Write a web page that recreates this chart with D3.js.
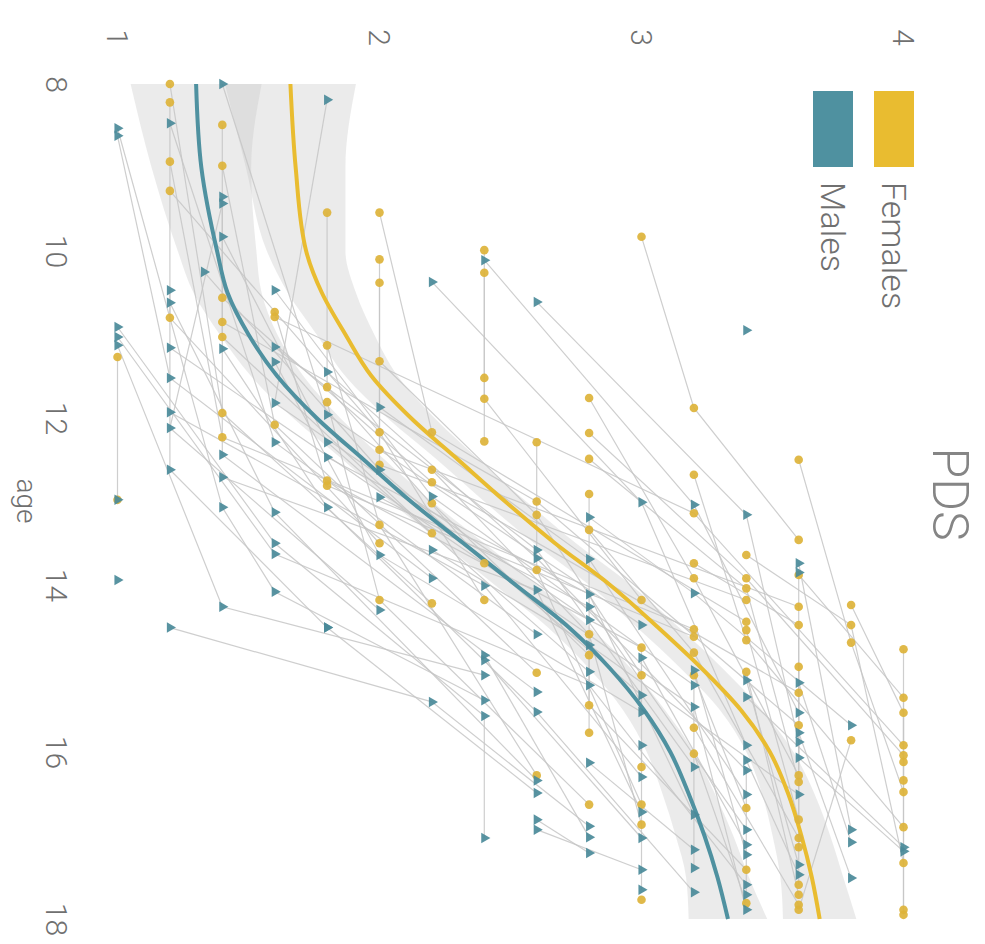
<!DOCTYPE html>
<html><head><meta charset="utf-8">
<script src="https://cdn.jsdelivr.net/npm/d3@7"></script>
<style>body{margin:0;background:#fff} svg{display:block}</style>
</head><body>
<svg id="chart" width="985" height="944"></svg>
<script>
const ageTicks = [8, 10, 12, 14, 16, 18];
const pdsTicks = [1, 2, 3, 4];
const legendLabels = ["Females", "Males"];

const fitAges   = [8, 9, 10, 10.5, 11, 11.5, 12, 12.5, 13, 13.5, 14, 14.5, 15, 15.5, 16, 16.5, 17, 17.5, 18];
const femaleFit = [1.66, 1.68, 1.72, 1.78, 1.87, 1.97, 2.12, 2.30, 2.48, 2.67, 2.88, 3.06, 3.23, 3.38, 3.49, 3.56, 3.61, 3.65, 3.68];
const femaleLo  = [1.41, 1.49, 1.57, 1.65, 1.76, 1.87, 2.03, 2.22, 2.40, 2.59, 2.80, 2.98, 3.15, 3.30, 3.40, 3.46, 3.50, 3.53, 3.54];
const femaleHi  = [1.91, 1.87, 1.87, 1.91, 1.98, 2.07, 2.21, 2.38, 2.56, 2.75, 2.96, 3.14, 3.31, 3.46, 3.58, 3.66, 3.72, 3.77, 3.82];
const maleFit   = [1.30, 1.32, 1.38, 1.42, 1.50, 1.61, 1.76, 1.94, 2.12, 2.32, 2.52, 2.72, 2.88, 3.01, 3.11, 3.18, 3.24, 3.29, 3.33];
const maleLo    = [1.05, 1.13, 1.23, 1.29, 1.39, 1.51, 1.67, 1.86, 2.04, 2.24, 2.44, 2.64, 2.80, 2.93, 3.02, 3.08, 3.13, 3.17, 3.18];
const maleHi    = [1.55, 1.51, 1.53, 1.55, 1.61, 1.71, 1.85, 2.02, 2.20, 2.40, 2.60, 2.80, 2.96, 3.09, 3.20, 3.28, 3.35, 3.41, 3.48];

// each subject: list of [age, PDS]
const femaleSubjects = [
 [[8.0,1.2],[11.94,1.4],[14.22,2.2]],
 [[8.22,1.2],[10.8,1.2],[13.5,2.0]],
 [[8.49,1.4],[11.03,1.4],[13.38,2.2]],
 [[8.93,1.2],[12.23,1.4],[14.53,3.2]],
 [[8.98,1.4],[12.08,1.6],[15.05,2.6]],
 [[9.28,1.2],[12.17,2.0],[14.18,2.4]],
 [[9.54,1.8],[11.63,1.8],[13.74,2.4]],
 [[9.54,2.0],[12.17,2.2],[14.44,3.4]],
 [[9.83,3.0],[11.88,3.2],[13.46,3.6]],
 [[9.99,2.4],[11.52,2.4],[12.28,2.4]],
 [[10.10,2.0],[12.38,2.0],[14.26,3.6]],
 [[10.26,2.4],[11.77,2.4],[14.18,3.0]],
 [[10.38,2.0],[12.56,2.0],[14.18,3.4]],
 [[10.56,1.4],[12.77,2.2],[15.29,3.6]],
 [[10.73,1.6],[12.81,1.8],[14.62,3.2]],
 [[10.79,1.6],[13.14,3.2],[15.92,4.0]],
 [[10.85,1.4],[13.0,2.6],[15.68,3.6]],
 [[11.13,1.8],[13.28,2.0],[16.28,2.6]],
 [[11.27,1.0],[12.98,1.0]],
 [[11.32,2.0],[13.16,2.6],[15.08,3.0]],
 [[11.76,2.8],[13.92,3.2],[16.28,3.6]],
 [[12.18,2.8],[13.92,3.4],[16.04,4.0]],
 [[12.49,2.8],[14.04,3.4],[16.36,3.6]],
 [[12.91,2.8],[15.44,2.8],[17.41,3.4]],
 [[11.81,1.8],[14.18,2.0],[16.63,2.8]],
 [[12.29,2.6],[13.82,2.6],[16.63,3.0]],
 [[12.5,3.6],[14.69,3.8],[16.48,4.0]],
 [[12.62,2.2],[14.59,2.8],[16.87,3.0]],
 [[12.68,3.2],[14.66,3.4],[16.90,4.0]],
 [[12.75,1.8],[14.75,3.0],[16.18,3.0]],
 [[13.02,2.2],[14.84,2.8],[15.77,2.8]],
 [[13.34,2.8],[14.81,3.2],[17.03,3.6]],
 [[13.64,3.4],[14.48,3.8],[17.33,4.0]],
 [[13.74,3.2],[14.48,3.6],[17.14,3.6]],
 [[13.88,3.6],[15.35,4.0],[17.95,4.0]],
 [[14.24,3.8],[15.53,4.0],[17.89,4.0]],
 [[14.54,3.4],[16.81,3.6]],
 [[14.98,3.6],[17.59,3.6]],
 [[15.04,3.4],[17.71,3.6]],
 [[15.08,3.2],[16.67,3.4]],
 [[15.71,3.2],[17.83,3.6]],
 [[15.86,3.8],[17.89,3.6]],
 [[16.02,3.2],[17.81,3.4]],
 [[14.77,4.0],[16.34,4.0]],
 [[17.77,3.0]],
 [[16.12,4.0]]
];

const maleSubjects = [
 [[8.0,1.4],[11.96,1.8],[14.48,3.0]],
 [[8.19,1.8],[11.82,1.6],[14.42,2.8]],
 [[8.47,1.2],[12.29,1.6],[14.59,2.6]],
 [[8.53,1.0],[13.07,1.4],[14.08,1.6],[15.38,2.4]],
 [[8.62,1.0],[11.52,1.2],[13.92,2.2]],
 [[9.35,1.4],[12.44,1.4],[15.28,2.6]],
 [[9.43,1.4],[12.12,1.2],[14.30,2.0]],
 [[9.83,1.4],[12.29,1.8],[15.04,2.8]],
 [[10.11,2.4],[13.04,3.2],[15.53,3.6]],
 [[10.25,1.33],[12.62,2.0],[15.32,3.0]],
 [[10.37,2.2],[13.01,3.0],[15.92,3.4]],
 [[10.47,1.2],[12.62,1.2],[14.51,1.8]],
 [[10.47,1.6],[12.94,2.2],[15.20,3.2],[17.39,3.2]],
 [[10.61,2.6],[13.16,3.4],[15.88,3.6]],
 [[10.62,1.2],[13.13,1.6],[16.34,2.6]],
 [[10.91,1.0],[13.50,1.6],[15.57,2.4],[17.03,2.4]],
 [[10.95,3.4]],
 [[11.03,1.0],[13.63,1.6],[15.20,2.8],[17.59,3.4]],
 [[11.13,1.0],[14.26,1.4],[15.08,2.4]],
 [[11.15,1.6],[13.58,2.6],[16.18,3.2]],
 [[11.17,1.4],[13.07,1.8],[15.52,2.6],[17.68,3.2]],
 [[11.33,1.6],[13.64,2.0],[15.52,3.0]],
 [[11.45,1.8],[13.68,2.6],[16.22,3.4],[17.71,3.4]],
 [[11.87,2.0],[13.69,2.8],[16.51,3.4]],
 [[11.93,1.2],[14.01,2.4],[16.30,3.0]],
 [[12.47,1.8],[14.11,2.8],[16.75,3.2]],
 [[12.71,1.4],[14.06,2.6],[16.72,3.0]],
 [[12.95,2.0],[14.26,2.8],[16.93,3.4]],
 [[13.19,2.8],[14.10,3.2],[15.68,3.8]],
 [[13.58,2.2],[14.72,2.8],[16.51,3.6]],
 [[13.74,3.6],[16.93,3.8]],
 [[13.85,3.6],[16.07,3.6],[17.19,4.0]],
 [[14.51,1.2],[15.40,2.2],[16.89,2.8]],
 [[14.51,1.8],[16.49,2.6]],
 [[14.84,2.4],[17.02,2.8]],
 [[14.90,2.4],[17.03,3.0]],
 [[14.87,3.0],[17.11,3.4]],
 [[11.16,1.2],[15.46,3.2],[17.89,3.4]],
 [[15.02,3.2],[17.23,3.4]],
 [[15.14,3.4],[17.35,3.6]],
 [[15.17,3.6],[17.08,3.8]],
 [[15.34,3.4],[17.14,4.0]],
 [[15.77,3.6],[17.51,3.8]],
 [[16.10,3.4],[17.47,3.6]],
 [[16.13,2.8],[17.17,3.2]],
 [[16.81,2.6],[17.21,2.8]],
 [[16.93,2.6],[17.41,3.0]],
 [[15.92,3.0],[17.65,3.0]],
 [[12.98,1.0]],
 [[13.94,1.0]]
];

const FEM = "#E9BC30", MAL = "#4F91A0";
const FEM_PT = "#DDB33A", MAL_PT = "#4A8A99";
const FONT = "Roboto, 'Liberation Sans', sans-serif";

const svg = d3.select("#chart");
const g = svg.append("g").attr("transform", "translate(985,0) rotate(90)");

const x = d3.scaleLinear().domain([8, 18]).range([84, 919]);
const y = d3.scaleLinear().domain([1, 4]).range([867.5, 81.5]);

// bands
const area = d3.area().x(d => x(d[0])).y0(d => y(d[1])).y1(d => y(d[2])).curve(d3.curveMonotoneX);
const fBand = fitAges.map((a, i) => [a, femaleLo[i], femaleHi[i]]);
const mBand = fitAges.map((a, i) => [a, maleLo[i], maleHi[i]]);
g.append("path").attr("d", area(fBand)).attr("fill", "#c4c4c4").attr("fill-opacity", 0.34);
g.append("path").attr("d", area(mBand)).attr("fill", "#c4c4c4").attr("fill-opacity", 0.34);

// subject lines
const line = d3.line().x(d => x(d[0])).y(d => y(d[1]));
const allSubj = femaleSubjects.concat(maleSubjects).filter(s => s.length > 1);
g.append("g").selectAll("path").data(allSubj).join("path")
  .attr("d", line).attr("fill", "none").attr("stroke", "#c6c6c6")
  .attr("stroke-width", 1.2).attr("stroke-opacity", 0.85);

// fitted curves
const fitLine = d3.line().x(d => x(d[0])).y(d => y(d[1])).curve(d3.curveMonotoneX);
g.append("path").attr("d", fitLine(fitAges.map((a, i) => [a, femaleFit[i]])))
  .attr("fill", "none").attr("stroke", FEM).attr("stroke-width", 4);
g.append("path").attr("d", fitLine(fitAges.map((a, i) => [a, maleFit[i]])))
  .attr("fill", "none").attr("stroke", MAL).attr("stroke-width", 4);

// points
const fPts = femaleSubjects.flat();
const mPts = maleSubjects.flat();
g.append("g").selectAll("circle").data(fPts).join("circle")
  .attr("cx", d => x(d[0])).attr("cy", d => y(d[1])).attr("r", 4.3)
  .attr("fill", FEM_PT).attr("fill-opacity", 0.92);
const tri = d3.symbol().type(d3.symbolTriangle).size(48);
g.append("g").selectAll("path").data(mPts).join("path")
  .attr("d", tri).attr("transform", d => `translate(${x(d[0])},${y(d[1])})`)
  .attr("fill", MAL_PT).attr("fill-opacity", 0.92);

// axes
const ax = g.append("g").attr("transform", "translate(0,918)")
  .call(d3.axisBottom(x).tickValues(ageTicks).tickSize(0).tickPadding(0).tickFormat(d3.format("d")));
ax.select(".domain").remove();
ax.attr("font-family", FONT).attr("font-size", 30);
ax.selectAll("text").attr("fill", "#707070").attr("font-weight", 300).attr("dy", "0.71em");

const ay = g.append("g").attr("transform", "translate(46,0)")
  .call(d3.axisLeft(y).tickValues(pdsTicks).tickSize(0).tickPadding(0).tickFormat(d3.format("d")));
ay.select(".domain").remove();
ay.attr("font-family", FONT).attr("font-size", 30);
ay.selectAll("text").attr("fill", "#707070").attr("font-weight", 300);

g.append("text").attr("x", 501).attr("y", 968).attr("text-anchor", "middle")
  .attr("font-family", FONT).attr("font-size", 28).attr("font-weight", 300)
  .attr("fill", "#707070").text("age");

g.append("text").attr("x", 494).attr("y", 52).attr("text-anchor", "middle")
  .attr("font-family", FONT).attr("font-size", 50).attr("font-weight", 300)
  .attr("fill", "#858585").text("PDS");

// legend
const legColors = [FEM, MAL];
const leg = g.append("g");
legendLabels.forEach((lab, i) => {
  const y0 = 71 + i * 61;
  leg.append("rect").attr("x", 91).attr("y", y0).attr("width", 76).attr("height", 40).attr("fill", legColors[i]);
  leg.append("text").attr("x", 182).attr("y", y0 + 20).attr("dy", "0.36em")
    .attr("font-family", FONT).attr("font-size", 34).attr("font-weight", 300)
    .attr("fill", "#707070").text(lab);
});
</script>
</body></html>
